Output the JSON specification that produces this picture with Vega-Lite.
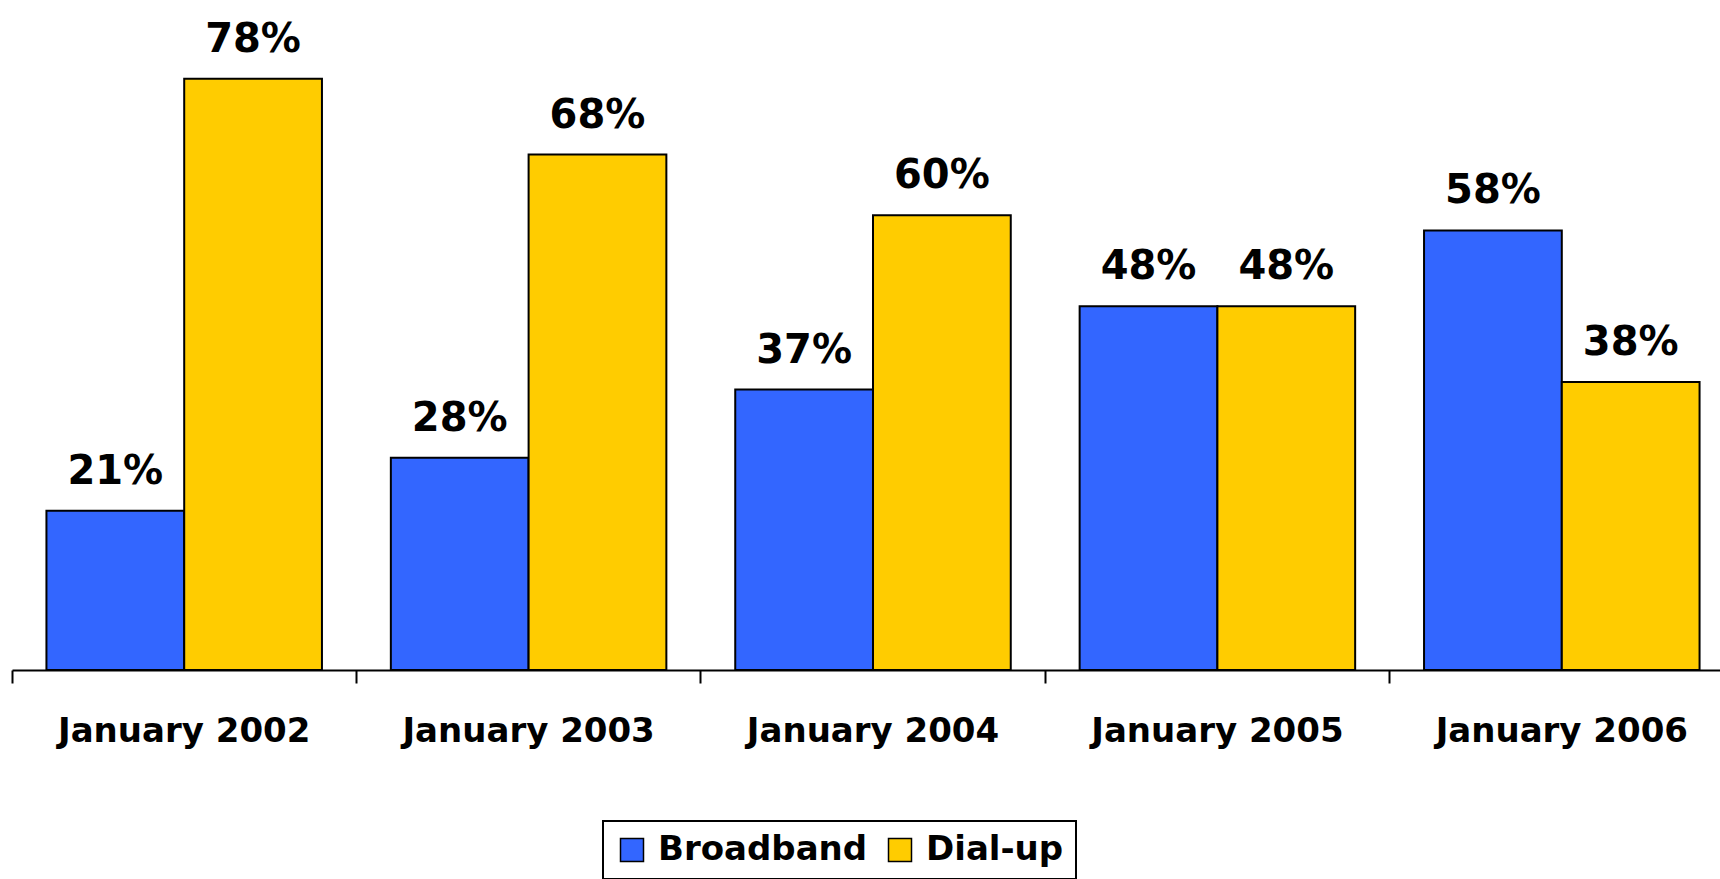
{
  "$schema": "https://vega.github.io/schema/vega-lite/v6.json",
  "autosize": "none",
  "width": 1708,
  "height": 667,
  "padding": {"left": 12, "top": 3, "right": 0, "bottom": 209},
  "background": "white",
  "config": {"view": {"stroke": null}, "legend": {"strokeWidth": 2}},
  "data": {"values": [
    {"period": "January 2002", "type": "Broadband", "value": 0.21},
    {"period": "January 2002", "type": "Dial-up", "value": 0.78},
    {"period": "January 2003", "type": "Broadband", "value": 0.28},
    {"period": "January 2003", "type": "Dial-up", "value": 0.68},
    {"period": "January 2004", "type": "Broadband", "value": 0.37},
    {"period": "January 2004", "type": "Dial-up", "value": 0.60},
    {"period": "January 2005", "type": "Broadband", "value": 0.48},
    {"period": "January 2005", "type": "Dial-up", "value": 0.48},
    {"period": "January 2006", "type": "Broadband", "value": 0.58},
    {"period": "January 2006", "type": "Dial-up", "value": 0.38}
  ]},
  "resolve": {"axis": {"x": "independent"}},
  "layer": [
    {
      "mark": {"type": "bar", "stroke": "black", "strokeWidth": 2},
      "encoding": {
        "x": {"field": "period", "type": "nominal", "sort": null,
          "scale": {"type": "band", "paddingInner": 0, "paddingOuter": 0, "range": [0, 1722]},
          "axis": {"orient": "bottom", "title": null, "ticks": false, "domain": false, "labelAngle": 0,
            "labelFont": "DejaVu Sans", "labelFontWeight": "bold", "labelFontSize": 34, "labelColor": "black",
            "labelPadding": 44, "labelLimit": 0}},
        "xOffset": {"field": "type", "type": "nominal", "scale": {"paddingOuter": 0.25, "paddingInner": 0}},
        "y": {"field": "value", "type": "quantitative", "scale": {"domain": [0, 0.88], "nice": false}, "axis": null},
        "color": {"field": "type", "type": "nominal",
          "scale": {"domain": ["Broadband", "Dial-up"], "range": ["#3366FF", "#FFCC00"]},
          "legend": {"orient": "none", "legendX": 591, "legendY": 818, "direction": "horizontal", "title": null,
            "strokeColor": "black", "padding": 12, "symbolType": "square", "symbolSize": 529,
            "symbolStrokeColor": "black", "symbolStrokeWidth": 1.5,
            "labelFont": "DejaVu Sans", "labelFontWeight": "bold", "labelFontSize": 34, "labelColor": "black",
            "labelOffset": 9, "columnPadding": 15, "labelLimit": 0}}
      }
    },
    {
      "mark": {"type": "text", "baseline": "alphabetic", "dy": -27, "font": "DejaVu Sans", "fontWeight": "bold", "fontSize": 40, "color": "black"},
      "encoding": {
        "x": {"field": "period", "type": "nominal", "sort": null,
          "axis": {"orient": "bottom", "title": null, "labels": false, "ticks": true, "bandPosition": 0,
            "tickColor": "black", "tickSize": 13, "tickWidth": 2, "domain": true, "domainColor": "black", "domainWidth": 2, "grid": false}},
        "xOffset": {"field": "type", "type": "nominal"},
        "y": {"field": "value", "type": "quantitative"},
        "text": {"field": "value", "type": "quantitative", "format": ".0%"}
      }
    }
  ]
}
